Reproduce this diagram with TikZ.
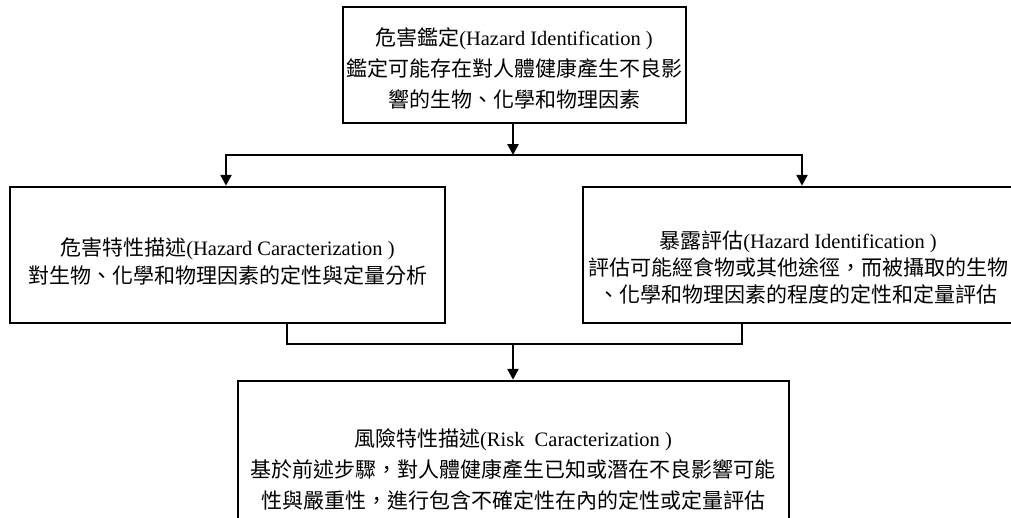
\documentclass[tikz,border=0pt]{standalone}
\usepackage{fontspec}
\setmainfont{Liberation Serif}
\newfontfamily\cjk{Noto Sans CJK TC}
\usetikzlibrary{arrows.meta}
\newcommand\zh[1]{{\cjk\fontsize{21}{29}\selectfont #1}}
\begin{document}
\begin{tikzpicture}[x=1pt,y=-1pt,
  box/.style={draw,line width=2.5pt,rectangle,inner sep=0pt},
  lbl/.style={align=center,inner sep=0pt},
  link/.style={line width=2.5pt},
  arr/.style={link,-{Triangle[width=11pt,length=11pt]}}]
\useasboundingbox (0,0) rectangle (1011,517);
\fill[white] (0,0) rectangle (1011,517);
% boxes
\node[box,minimum width=343pt,minimum height=116pt] (top) at (514.5,65) {};
\node[box,minimum width=435pt,minimum height=136pt] (left) at (227.5,255) {};
\node[box,minimum width=430pt,minimum height=136pt] (right) at (798,255) {};
\node[box,minimum width=551pt,minimum height=179pt] (bottom) at (513.5,470.5) {};
% texts
\node[lbl,font=\fontsize{20.5}{31}\selectfont] (topT) at (514,68)
  {\zh{危害鑑定}(Hazard Identification )\\ \zh{鑑定可能存在對人體健康產生不良影}\\ \zh{響的生物、化學和物理因素}};
\node[lbl,font=\fontsize{20.5}{28}\selectfont] (leftT) at (227.5,261)
  {\zh{危害特性描述}(Hazard Caracterization )\\ \zh{對生物、化學和物理因素的定性與定量分析}};
\node[lbl,font=\fontsize{20.5}{27}\selectfont] (rightT) at (798,268)
  {\zh{暴露評估}(Hazard Identification )\\ \zh{評估可能經食物或其他途徑，而被攝取的生物}\\ \zh{、化學和物理因素的程度的定性和定量評估}};
\node[lbl,font=\fontsize{20.5}{31}\selectfont] (bottomT) at (513,469)
  {\zh{風險特性描述}(Risk\ \ Caracterization )\\ \zh{基於前述步驟，對人體健康產生已知或潛在不良影響可能}\\ \zh{性與嚴重性，進行包含不確定性在內的定性或定量評估}};
% connectors
\coordinate (sp) at (513,155);
\coordinate (mg) at (513,344);
\draw[arr] ([xshift=-1.5pt]top.south) -- (sp);
\draw[arr] (sp) -| ([xshift=-1.5pt]left.north);
\draw[arr] (sp) -| ([xshift=4pt]right.north);
\draw[link] ([xshift=59.5pt]left.south) |- (mg) -| ([xshift=-56pt]right.south);
\draw[arr] (mg) -- (mg |- bottom.north);
\end{tikzpicture}
\end{document}
